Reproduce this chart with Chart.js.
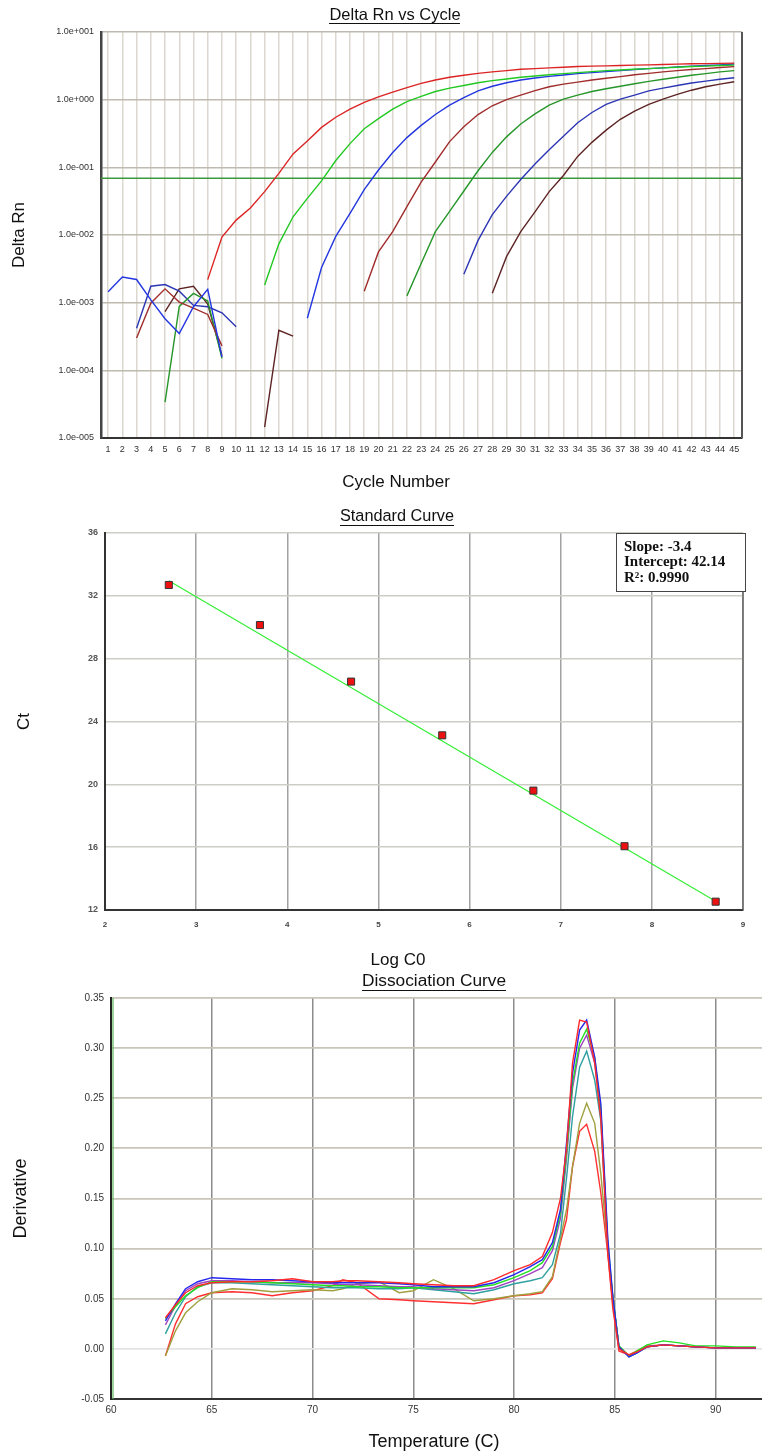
<!DOCTYPE html>
<html>
<head>
<meta charset="utf-8">
<title>qPCR run</title>
<script src="https://cdn.jsdelivr.net/npm/chart.js@4.4.1/dist/chart.umd.min.js"></script>
<style>
  html, body { margin: 0; padding: 0; background: #fff; }
  #page { position: relative; width: 762px; height: 1454px; overflow: hidden; }
  canvas { position: absolute; left: 0; }
</style>
</head>
<body>
<div id="page">
  <canvas id="ampChart" width="762" height="500" style="top:0"></canvas>
  <canvas id="stdChart" width="762" height="468" style="top:500px"></canvas>
  <canvas id="meltChart" width="762" height="486" style="top:968px"></canvas>
</div>
<script>
const FONT = "'Liberation Sans', Arial, sans-serif";

// --- Amplification plot data (Delta Rn per cycle, null = not plotted) ---
const cycles = [1,2,3,4,5,6,7,8,9,10,11,12,13,14,15,16,17,18,19,20,21,22,23,24,25,26,27,28,29,30,31,32,33,34,35,36,37,38,39,40,41,42,43,44,45];
const decades = [1e-5, 1e-4, 1e-3, 1e-2, 1e-1, 1, 10];
const threshold = 0.069;
const rnStd1 = [null,null,null,null,null,null,null,0.00219,0.00933,0.0166,0.0251,0.0437,0.0813,0.158,0.245,0.389,0.550,0.724,0.912,1.10,1.29,1.51,1.74,1.95,2.14,2.29,2.45,2.57,2.69,2.82,2.88,2.95,3.02,3.09,3.13,3.16,3.20,3.24,3.27,3.31,3.35,3.39,3.41,3.44,3.47];
const rnStd2 = [null,null,null,null,null,null,null,null,null,null,null,0.00182,0.00741,0.0186,0.0347,0.0631,0.126,0.224,0.372,0.525,0.724,0.933,1.12,1.32,1.48,1.62,1.78,1.91,2.02,2.14,2.24,2.34,2.43,2.51,2.60,2.69,2.75,2.82,2.88,2.95,3.02,3.09,3.13,3.20,3.24];
const rnStd3 = [0.00145,0.0024,0.0022,0.0011,0.00058,0.00035,0.00087,0.00157,0.000157,null,null,null,null,null,0.000589,0.00331,0.00955,0.0209,0.0468,0.0912,0.166,0.275,0.417,0.603,0.832,1.07,1.35,1.58,1.78,1.95,2.09,2.21,2.32,2.43,2.51,2.60,2.69,2.79,2.88,2.95,3.05,3.13,3.20,3.27,3.37];
const rnStd4 = [null,null,0.00030,0.00098,0.0016,0.00102,0.00083,0.00067,0.00023,null,null,null,null,null,null,null,null,null,0.00148,0.00562,0.0112,0.0263,0.0603,0.120,0.240,0.398,0.603,0.813,1.00,1.17,1.36,1.55,1.70,1.82,1.95,2.07,2.19,2.34,2.45,2.57,2.69,2.79,2.88,2.99,3.08];
const rnStd5 = [null,null,null,null,0.000034,0.00088,0.00137,0.00106,0.00015,null,null,null,null,null,null,null,null,null,null,null,null,0.00126,0.0038,0.0112,0.0224,0.0447,0.0891,0.166,0.282,0.437,0.617,0.832,1.02,1.17,1.32,1.45,1.58,1.72,1.86,2.00,2.14,2.29,2.43,2.57,2.69];
const rnStd6 = [null,null,0.00042,0.00175,0.00185,0.00148,0.00091,0.00087,0.00071,0.00044,null,null,null,null,null,null,null,null,null,null,null,null,null,null,null,0.00263,0.00832,0.0200,0.0372,0.0661,0.112,0.182,0.288,0.457,0.646,0.851,1.02,1.17,1.35,1.48,1.62,1.76,1.88,2.00,2.11];
const rnStd7 = [null,null,null,null,0.00074,0.0016,0.00175,0.00095,0.000165,null,null,0.0000145,0.00039,0.00032,null,null,null,null,null,null,null,null,null,null,null,null,null,0.00138,0.00479,0.0112,0.0219,0.0437,0.0759,0.145,0.234,0.355,0.513,0.676,0.851,1.02,1.20,1.38,1.55,1.70,1.84];

// --- Standard curve data ---
const logC0 = [2.7, 3.7, 4.7, 5.7, 6.7, 7.7, 8.7];
const ctValues = [32.69, 30.14, 26.54, 23.12, 19.60, 16.06, 12.53];
const slope = -3.4;
const intercept = 42.14;
const r2 = 0.9990;
const stdXTicks = [2, 3, 4, 5, 6, 7, 8, 9];
const stdYTicks = [12, 16, 20, 24, 28, 32, 36];

// --- Dissociation (melt) curve data ---
const temps = [62.7,63.2,63.7,64.3,65,66,67,68,69,70,71,71.5,72.2,73.3,74.3,75,76,77,78,79,80,80.8,81.4,81.9,82.3,82.6,82.9,83.25,83.6,84.0,84.3,84.65,84.9,85.2,85.7,86.1,86.6,87.4,88.2,89,90,91,92];
const dRed1 = [0.031,0.044,0.056,0.063,0.066,0.067,0.067,0.068,0.070,0.067,0.067,0.068,0.068,0.067,0.066,0.065,0.064,0.063,0.063,0.069,0.078,0.084,0.092,0.116,0.150,0.200,0.285,0.328,0.326,0.285,0.230,0.095,0.040,0.000,-0.006,-0.003,0.002,0.004,0.003,0.002,0.001,0.001,0.001];
const dBlue = [0.028,0.045,0.060,0.067,0.071,0.070,0.069,0.069,0.068,0.067,0.066,0.066,0.066,0.066,0.065,0.064,0.062,0.062,0.062,0.066,0.074,0.082,0.089,0.106,0.139,0.205,0.275,0.318,0.328,0.291,0.245,0.110,0.052,0.002,-0.008,-0.004,0.002,0.004,0.003,0.002,0.001,0.001,0.001];
const dGreen = [0.030,0.042,0.053,0.061,0.067,0.067,0.067,0.066,0.065,0.064,0.063,0.063,0.062,0.062,0.061,0.061,0.061,0.061,0.061,0.064,0.071,0.078,0.086,0.102,0.135,0.195,0.265,0.305,0.319,0.290,0.240,0.105,0.052,0.003,-0.007,-0.002,0.004,0.008,0.006,0.003,0.003,0.002,0.002];
const dPurple = [0.024,0.043,0.058,0.065,0.068,0.068,0.067,0.066,0.066,0.066,0.065,0.064,0.064,0.063,0.062,0.062,0.060,0.059,0.058,0.061,0.068,0.075,0.081,0.098,0.130,0.190,0.260,0.300,0.313,0.285,0.238,0.100,0.050,0.002,-0.007,-0.003,0.002,0.004,0.003,0.002,0.001,0.001,0.001];
const dTeal = [0.015,0.036,0.052,0.062,0.066,0.066,0.065,0.064,0.063,0.062,0.061,0.061,0.061,0.060,0.060,0.061,0.059,0.057,0.055,0.059,0.065,0.068,0.071,0.084,0.115,0.170,0.232,0.281,0.297,0.268,0.228,0.100,0.050,0.003,-0.008,-0.004,0.002,0.004,0.003,0.002,0.001,0.001,0.001];
const dOlive = [-0.007,0.018,0.036,0.047,0.056,0.060,0.059,0.057,0.058,0.059,0.058,0.060,0.065,0.067,0.056,0.058,0.069,0.060,0.048,0.050,0.053,0.055,0.057,0.072,0.110,0.139,0.182,0.225,0.245,0.225,0.175,0.100,0.050,0.002,-0.007,-0.003,0.002,0.004,0.003,0.002,0.001,0.001,0.001];
const dRed2 = [-0.007,0.025,0.045,0.052,0.056,0.057,0.056,0.053,0.056,0.058,0.063,0.069,0.066,0.050,0.049,0.048,0.047,0.046,0.045,0.049,0.053,0.054,0.056,0.070,0.106,0.129,0.182,0.217,0.224,0.197,0.156,0.095,0.045,-0.002,-0.006,-0.002,0.003,0.004,0.003,0.002,0.001,0.001,0.001];
const meltXTicks = [60, 65, 70, 75, 80, 85, 90];
const meltYTicks = [-0.05, 0, 0.05, 0.10, 0.15, 0.20, 0.25, 0.30, 0.35];

// --- helpers ---
function sciLabel(v) {
  const e = Math.round(Math.log10(v));
  const m = v / Math.pow(10, e);
  return m.toFixed(1) + 'e' + (e < 0 ? '-' : '+') + String(Math.abs(e)).padStart(3, '0');
}

function fixedTicks(list) {
  return scale => { scale.ticks = list.map(v => ({ value: v })); };
}

// centred text, optionally underlined (chart titles and x axis titles)
function captions(items) {
  return {
    id: 'captions',
    afterDraw(chart) {
      const ctx = chart.ctx;
      items.forEach(it => {
        ctx.save();
        ctx.font = it.font;
        ctx.fillStyle = '#111';
        ctx.textAlign = 'center';
        ctx.textBaseline = 'middle';
        ctx.fillText(it.text, it.x, it.y);
        if (it.underline) {
          const w = ctx.measureText(it.text).width;
          ctx.fillRect(Math.round(it.x - w / 2), Math.round(it.y + it.underline), Math.round(w), 1);
        }
        ctx.restore();
      });
    }
  };
}

// extra plot frame lines that the axes do not draw
function frame(opts) {
  return {
    id: 'frame',
    afterDraw(chart) {
      const { ctx, chartArea: a } = chart;
      ctx.save();
      if (opts.right) {
        ctx.strokeStyle = opts.right.color;
        ctx.lineWidth = opts.right.width;
        ctx.beginPath();
        ctx.moveTo(a.right, a.top);
        ctx.lineTo(a.right, a.bottom);
        ctx.stroke();
      }
      if (opts.innerLeft) {
        ctx.strokeStyle = opts.innerLeft.color;
        ctx.lineWidth = opts.innerLeft.width;
        ctx.beginPath();
        ctx.moveTo(a.left + 2, a.top);
        ctx.lineTo(a.left + 2, a.bottom);
        ctx.stroke();
      }
      ctx.restore();
    }
  };
}

const thresholdLine = {
  id: 'thresholdLine',
  beforeDatasetsDraw(chart) {
    const { ctx, chartArea: a, scales } = chart;
    const y = scales.y.getPixelForValue(threshold);
    ctx.save();
    ctx.strokeStyle = '#3c9a3c';
    ctx.lineWidth = 1.6;
    ctx.beginPath();
    ctx.moveTo(a.left, y);
    ctx.lineTo(a.right, y);
    ctx.stroke();
    ctx.restore();
  }
};

const fitBox = {
  id: 'fitBox',
  afterDraw(chart) {
    const ctx = chart.ctx;
    const lines = [
      'Slope: ' + slope,
      'Intercept: ' + intercept.toFixed(2),
      'R\u00b2: ' + r2.toFixed(4)
    ];
    ctx.save();
    ctx.fillStyle = '#fff';
    ctx.fillRect(616, 33, 129, 58);
    ctx.strokeStyle = '#444';
    ctx.lineWidth = 1;
    ctx.strokeRect(616.5, 33.5, 129, 58);
    ctx.fillStyle = '#111';
    ctx.font = "bold 15px 'Liberation Serif', 'Times New Roman', serif";
    ctx.textBaseline = 'middle';
    ctx.textAlign = 'left';
    [47, 62, 78].forEach((y, i) => ctx.fillText(lines[i], 624, y));
    ctx.restore();
  }
};

const common = {
  responsive: false,
  animation: false,
  plugins: { legend: { display: false }, tooltip: { enabled: false } }
};

function toPoints(xs, ys) {
  return ys.map((v, i) => ({ x: xs[i], y: v }));
}

// --- Delta Rn vs Cycle ---
const ampSeries = [
  { values: rnStd1, color: '#dc2424' },
  { values: rnStd2, color: '#22c822' },
  { values: rnStd3, color: '#2436e0' },
  { values: rnStd4, color: '#a02c2c' },
  { values: rnStd5, color: '#26962a' },
  { values: rnStd6, color: '#2c36b4' },
  { values: rnStd7, color: '#5e2424' }
];

new Chart(document.getElementById('ampChart'), {
  type: 'line',
  data: {
    datasets: ampSeries.map(s => ({
      data: toPoints(cycles, s.values),
      borderColor: s.color,
      borderWidth: 1.4,
      pointRadius: 0,
      tension: 0,
      fill: false
    }))
  },
  options: {
    ...common,
    layout: { padding: { top: 32, right: 20, bottom: 0, left: 0 } },
    scales: {
      x: {
        type: 'linear', min: 0.5, max: 45.55,
        afterBuildTicks: fixedTicks(cycles),
        afterFit: s => { s.height = 62; },
        grid: { color: '#dcd8cf', lineWidth: 1.5, drawTicks: false },
        border: { color: '#333', width: 2 },
        ticks: { font: { family: FONT, size: 9 }, color: '#333', padding: 6, maxRotation: 0, autoSkip: false }
      },
      y: {
        type: 'logarithmic', min: 1e-5, max: 10,
        afterBuildTicks: fixedTicks(decades),
        afterFit: s => { s.width = 101; },
        grid: { color: '#bfbaaf', lineWidth: 1.5, drawTicks: false },
        border: { color: '#444', width: 2.5 },
        ticks: { font: { family: FONT, size: 9 }, color: '#333', padding: 7, callback: v => sciLabel(v) },
        title: { display: true, text: 'Delta Rn', font: { family: FONT, size: 17 }, color: '#111', padding: { top: 9, bottom: 0 } }
      }
    }
  },
  plugins: [
    thresholdLine,
    frame({ right: { color: '#555', width: 2 } }),
    captions([
      { text: 'Delta Rn vs Cycle', x: 395, y: 15, font: '16.5px ' + FONT, underline: 8 },
      { text: 'Cycle Number', x: 396, y: 482, font: '17px ' + FONT }
    ])
  ]
});

// --- Standard Curve ---
const fitEnds = [logC0[0], logC0[logC0.length - 1]];

new Chart(document.getElementById('stdChart'), {
  type: 'scatter',
  data: {
    datasets: [
      {
        data: toPoints(logC0, ctValues),
        pointStyle: 'rect',
        pointRadius: 5,
        backgroundColor: '#ee1111',
        borderColor: '#333',
        borderWidth: 1,
        showLine: false
      },
      {
        data: fitEnds.map(x => ({ x: x, y: slope * x + intercept })),
        showLine: true,
        borderColor: '#33ee33',
        borderWidth: 1.2,
        pointRadius: 0
      }
    ]
  },
  options: {
    ...common,
    layout: { padding: { top: 33, right: 19, bottom: 0, left: 0 } },
    scales: {
      x: {
        type: 'linear', min: 2, max: 9,
        afterBuildTicks: fixedTicks(stdXTicks),
        afterFit: s => { s.height = 58; },
        grid: { color: '#a2a2a2', lineWidth: 1.5, drawTicks: false },
        border: { color: '#333', width: 2 },
        ticks: { font: { family: FONT, size: 8, weight: 'bold' }, color: '#444', padding: 10, maxRotation: 0, autoSkip: false }
      },
      y: {
        min: 12, max: 36,
        afterBuildTicks: fixedTicks(stdYTicks),
        afterFit: s => { s.width = 105; },
        grid: { color: '#cdcdc6', lineWidth: 1.5, drawTicks: false },
        border: { color: '#333', width: 2 },
        ticks: { font: { family: FONT, size: 9, weight: 'bold' }, color: '#555', padding: 7 },
        title: { display: true, text: 'Ct', font: { family: FONT, size: 17 }, color: '#111', padding: { top: 14, bottom: 0 } }
      }
    }
  },
  plugins: [
    frame({ right: { color: '#666', width: 1.5 } }),
    fitBox,
    captions([
      { text: 'Standard Curve', x: 397, y: 17, font: '16.3px ' + FONT, underline: 8 },
      { text: 'Log C0', x: 398, y: 460, font: '17px ' + FONT }
    ])
  ]
});

// --- Dissociation Curve ---
const meltSeries = [
  { values: dRed1, color: '#ff2a2a' },
  { values: dBlue, color: '#2626ee' },
  { values: dGreen, color: '#22e022' },
  { values: dPurple, color: '#a044c0' },
  { values: dTeal, color: '#2fa0a0' },
  { values: dOlive, color: '#a0a040' },
  { values: dRed2, color: '#ff3030' }
];

new Chart(document.getElementById('meltChart'), {
  type: 'line',
  data: {
    datasets: meltSeries.map(s => ({
      data: toPoints(temps, s.values),
      borderColor: s.color,
      borderWidth: 1.4,
      pointRadius: 0,
      tension: 0,
      fill: false
    }))
  },
  options: {
    ...common,
    layout: { padding: { top: 30, right: 0, bottom: 0, left: 0 } },
    scales: {
      x: {
        type: 'linear', min: 60, max: 92.3,
        afterBuildTicks: fixedTicks(meltXTicks),
        afterFit: s => { s.height = 55; },
        grid: { color: '#8c8c8c', lineWidth: 1.5, drawTicks: false },
        border: { color: '#333', width: 2 },
        ticks: { font: { family: FONT, size: 10 }, color: '#333', padding: 5, maxRotation: 0, autoSkip: false }
      },
      y: {
        min: -0.05, max: 0.35,
        afterBuildTicks: fixedTicks(meltYTicks),
        afterFit: s => { s.width = 111; },
        grid: {
          color: c => (c.tick && Math.abs(c.tick.value) < 1e-9 ? '#e4e4e4' : '#c9c5b9'),
          lineWidth: 1.8,
          drawTicks: false
        },
        border: { color: '#222', width: 2 },
        ticks: { font: { family: FONT, size: 10 }, color: '#333', padding: 7, callback: v => v.toFixed(2) },
        title: { display: true, text: 'Derivative', font: { family: FONT, size: 18 }, color: '#111', padding: { top: 10, bottom: 0 } }
      }
    }
  },
  plugins: [
    frame({ innerLeft: { color: '#5cb85c', width: 1.2 } }),
    captions([
      { text: 'Dissociation Curve', x: 434, y: 13, font: '17.3px ' + FONT, underline: 8.5 },
      { text: 'Temperature (C)', x: 434, y: 474, font: '18px ' + FONT }
    ])
  ]
});
</script>
</body>
</html>
